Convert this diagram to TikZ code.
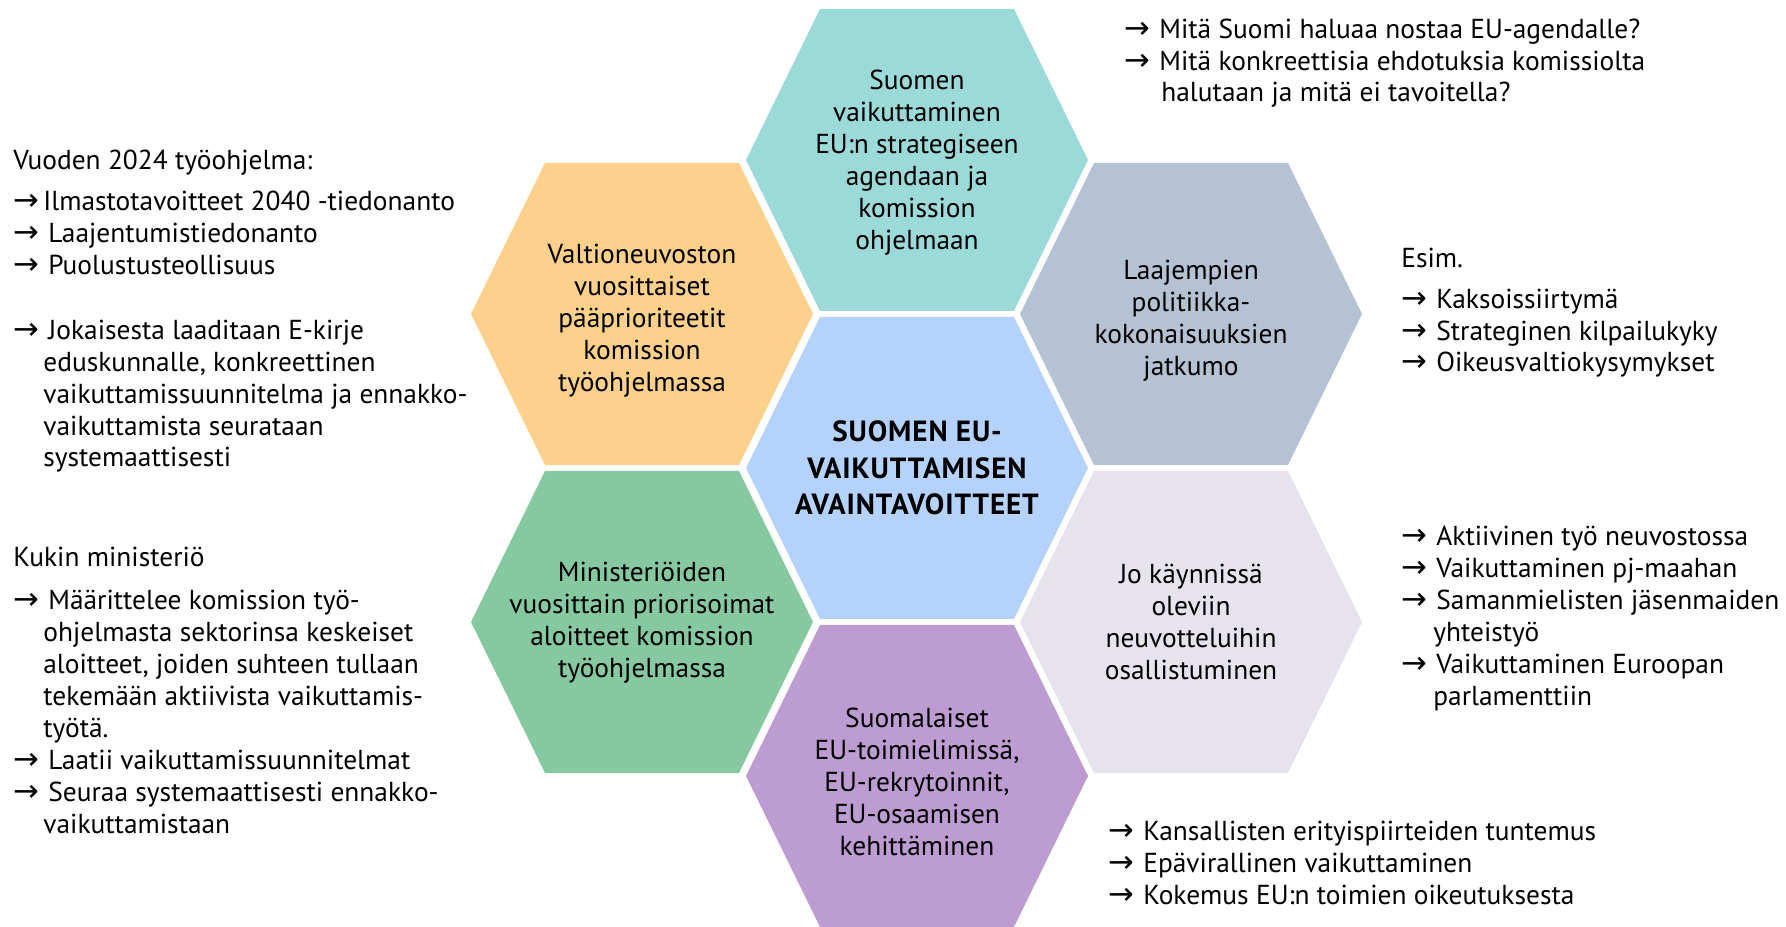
\documentclass[tikz,border=0pt]{standalone}
\usepackage{fontspec}
\setmainfont{PT Sans}
\newfontfamily\arrowfont{DejaVu Sans}

\definecolor{hexteal}{HTML}{9BDAD8}
\definecolor{hexorange}{HTML}{FDD08C}
\definecolor{hexslate}{HTML}{B4C2D4}
\definecolor{hexblue}{HTML}{B4D2FB}
\definecolor{hexgreen}{HTML}{86C9A0}
\definecolor{hexlilac}{HTML}{E6E3EC}
\definecolor{hexpurple}{HTML}{BD9CD1}

\newcommand{\arr}{{\arrowfont\fontsize{17.5}{18}\selectfont →}}
\newcommand{\ar}{\makebox[7mm][l]{\arr}}

\tikzset{
  cell/.style={align=center, inner sep=0pt, font=\fontsize{15.6}{18.2}\selectfont},
  cellbold/.style={cell, font=\bfseries\fontsize{16.6}{20.8}\selectfont\addfontfeature{LetterSpace=3}},
  side/.style={align=left, inner sep=0pt, anchor=base west, font=\fontsize{15.6}{18.2}\selectfont},
}

\begin{document}
\begin{tikzpicture}[x=0.2mm, y=-0.2mm]
    \useasboundingbox (0,0) rectangle (1786,927);
    % honeycomb
    \foreach \cx/\cy/\col in {917/160/hexteal, 642/314/hexorange, 1191/314/hexslate, 917/468/hexblue,
                              642/622/hexgreen, 1191/622/hexlilac, 917/776/hexpurple}
        \fill[\col] (\cx-171,\cy) -- (\cx-97,\cy-151) -- (\cx+97,\cy-151) -- (\cx+171,\cy)
            -- (\cx+97,\cy+151) -- (\cx-97,\cy+151) -- cycle;

    \node[cellbold] (aims) at (917,468) {SUOMEN EU-\\VAIKUTTAMISEN\\AVAINTAVOITTEET};
    \node[cell] (agenda) at (917,163) {Suomen\\vaikuttaminen\\EU:n strategiseen\\agendaan ja\\komission\\ohjelmaan};
    \node[cell] (govt) at (642,321) {Valtioneuvoston\\vuosittaiset\\pääprioriteetit\\komission\\työohjelmassa};
    \node[cell] (policy) at (1191,321) {Laajempien\\politiikka-\\kokonaisuuksien\\jatkumo};
    \node[cell] (ministries) at (642,623) {Ministeriöiden\\vuosittain priorisoimat\\aloitteet komission\\työohjelmassa};
    \node[cell] (talks) at (1191,622) {Jo käynnissä\\oleviin\\neuvotteluihin\\osallistuminen};
    \node[cell] (people) at (917,782) {Suomalaiset\\EU-toimielimissä,\\EU-rekrytoinnit,\\EU-osaamisen\\kehittäminen};

    % side notes (anchored at the last line)
    \node[side] (workprog) at (13,467) {Vuoden 2024 työohjelma:\\[1.8mm]
        \makebox[6mm][l]{\arr}Ilmastotavoitteet 2040 -tiedonanto\\
        \ar Laajentumistiedonanto\\
        \ar Puolustusteollisuus\\[6.6mm]
        \ar Jokaisesta laaditaan E-kirje\\
        \hspace*{6mm}eduskunnalle, konkreettinen\\
        \hspace*{6mm}vaikuttamissuunnitelma ja ennakko-\\
        \hspace*{6mm}vaikuttamista seurataan\\
        \hspace*{6mm}systemaattisesti};
    \node[side] (eachmin) at (13,833) {Kukin ministeriö\\[2.2mm]
        \ar Määrittelee komission työ-\\
        \hspace*{6mm}ohjelmasta sektorinsa keskeiset\\
        \hspace*{6mm}aloitteet, joiden suhteen tullaan\\
        \hspace*{6mm}tekemään aktiivista vaikuttamis-\\
        \hspace*{6mm}työtä.\\
        \ar Laatii vaikuttamissuunnitelmat\\
        \ar Seuraa systemaattisesti ennakko-\\
        \hspace*{6mm}vaikuttamistaan};
    \node[side] (questions) at (1124,102) {\ar Mitä Suomi haluaa nostaa EU-agendalle?\\
        \ar Mitä konkreettisia ehdotuksia komissiolta\\
        \hspace*{7.4mm}halutaan ja mitä ei tavoitella?};
    \node[side] (examples) at (1401,372) {Esim.\\[1.8mm]
        \ar Kaksoissiirtymä\\
        \ar Strateginen kilpailukyky\\
        \ar Oikeusvaltiokysymykset};
    \node[side] (council) at (1401,705) {\ar Aktiivinen työ neuvostossa\\
        \ar Vaikuttaminen pj-maahan\\
        \ar Samanmielisten jäsenmaiden\\
        \hspace*{6.4mm}yhteistyö\\
        \ar Vaikuttaminen Euroopan\\
        \hspace*{6.4mm}parlamenttiin};
    \node[side] (expertise) at (1108,904) {\ar Kansallisten erityispiirteiden tuntemus\\
        \ar Epävirallinen vaikuttaminen\\
        \ar Kokemus EU:n toimien oikeutuksesta};
\end{tikzpicture}
\end{document}
